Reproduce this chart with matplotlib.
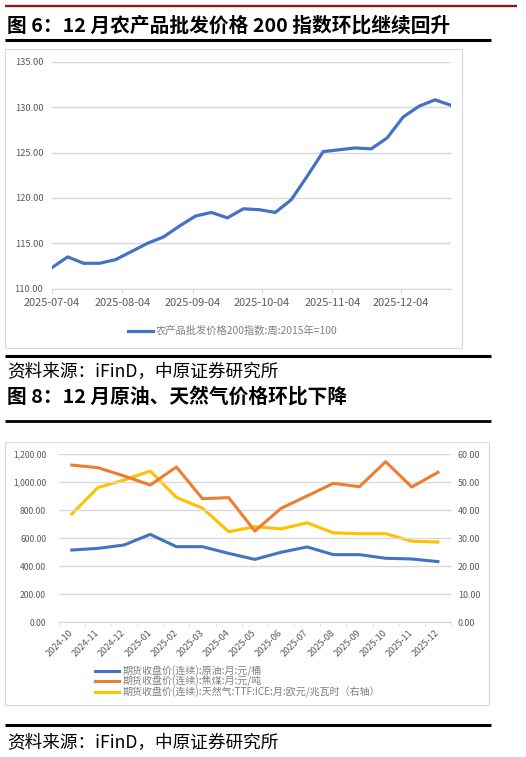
import matplotlib
matplotlib.use("Agg")
import matplotlib.pyplot as plt
from matplotlib.lines import Line2D
from matplotlib.patches import Rectangle
import pandas as pd
import numpy as np

plt.rcParams['font.family'] = ['Noto Sans CJK SC', 'DejaVu Sans']

# ---- data: chart 1 (weekly index) ----
agri_dates = pd.date_range('2025-07-04', periods=26, freq='7D')
agri_index = [112.3, 113.5, 112.8, 112.8, 113.2, 114.1, 115.0, 115.7, 116.9, 118.0,
              118.4, 117.8, 118.8, 118.7, 118.4, 119.8, 122.4, 125.1, 125.3, 125.5,
              125.4, 126.6, 128.9, 130.1, 130.8, 130.2]
agri_ticks = ['2025-07-04', '2025-08-04', '2025-09-04', '2025-10-04', '2025-11-04', '2025-12-04']
agri_label = '农产品批发价格200指数:周:2015年=100'

# ---- data: chart 2 (monthly futures) ----
months = ['2024-10', '2024-11', '2024-12', '2025-01', '2025-02', '2025-03', '2025-04', '2025-05',
          '2025-06', '2025-07', '2025-08', '2025-09', '2025-10', '2025-11', '2025-12']
crude = [515, 527, 551, 627, 539, 539, 491, 448, 499, 537, 482, 482, 456, 451, 432]
coking_coal = [1123, 1104, 1045, 980, 1109, 882, 890, 651, 813, 902, 992, 968, 1147, 966, 1071]
ttf_gas = [38.6, 48.1, 50.8, 54.0, 44.6, 40.7, 32.3, 34.1, 33.3, 35.5, 31.9, 31.6, 31.6, 28.9, 28.6]
series_names = ['期货收盘价(连续):原油:月:元/桶',
                '期货收盘价(连续):焦煤:月:元/吨',
                '期货收盘价(连续):天然气:TTF:ICE:月:欧元/兆瓦时（右轴）']

W, H = 526, 757
BLUE, ORANGE, YELLOW = '#4472C4', '#ED7D31', '#FFC000'
GRID = '#D9D9D9'
TICK = '#595959'


def fx(x):
    return x / W


def fy(y):
    return 1 - y / H


def rect(l, t, r, b):
    return [fx(l), fy(b), (r - l) / W, (b - t) / H]


def hline(x0, x1, y, color, lw):
    fig.add_artist(Line2D([fx(x0), fx(x1)], [fy(y), fy(y)], transform=fig.transFigure,
                          color=color, lw=lw, solid_capstyle='butt'))


def box(l, t, r, b):
    fig.add_artist(Rectangle((fx(l), fy(b)), (r - l) / W, (b - t) / H, transform=fig.transFigure,
                             fill=False, edgecolor=GRID, lw=0.8))


fig = plt.figure(figsize=(W / 100, H / 100), dpi=100)

# header decorations
hline(5, 517, 5.5, '#8B1A1A', 1.7)
fig.text(fx(7), fy(25), '图 6：12 月农产品批发价格 200 指数环比继续回升', fontsize=14.2,
         fontweight='bold', va='center', ha='left')
hline(5, 491, 40, 'black', 2.2)

# ---- chart 1 ----
box(5, 49, 462, 347.5)
ax1 = fig.add_axes(rect(51.7, 61.7, 451, 288.7))
ax1.plot(agri_dates, agri_index, color=BLUE, lw=2.3, solid_joinstyle='round')
ax1.set_ylim(110, 135)
ax1.set_yticks(np.arange(110, 136, 5))
ax1.yaxis.set_major_formatter(plt.FuncFormatter(lambda v, p: f'{v:.2f}'))
ax1.set_xlim(agri_dates[0], agri_dates[-1])
ax1.set_xticks(pd.to_datetime(agri_ticks))
ax1.set_xticklabels(agri_ticks)
ax1.grid(axis='y', color=GRID, lw=1)
ax1.set_axisbelow(True)
for s in ['top', 'right', 'left']:
    ax1.spines[s].set_visible(False)
ax1.spines['bottom'].set_color(GRID)
ax1.tick_params(axis='y', length=0, labelsize=6.7, labelcolor=TICK, pad=6)
ax1.tick_params(axis='x', length=3, color=GRID, labelsize=7.9, labelcolor=TICK, pad=4)

fig.add_artist(Line2D([fx(128), fx(153)], [fy(330.7)] * 2, transform=fig.transFigure,
                      color=BLUE, lw=2.3))
fig.text(fx(156), fy(330.7), agri_label, fontsize=7.4, color='#7F7F7F', va='center', ha='left')

hline(5, 491, 356, 'black', 2.2)
fig.text(fx(7), fy(372), '资料来源：iFinD，中原证券研究所', fontsize=12.7, va='center', ha='left')
fig.text(fx(7), fy(397), '图 8：12 月原油、天然气价格环比下降', fontsize=14.2,
         fontweight='bold', va='center', ha='left')
hline(5, 491, 420.5, 'black', 2.0)

# ---- chart 2 ----
box(5, 441.7, 489, 705)
ax2 = fig.add_axes(rect(58.7, 454.3, 451, 622))
x = np.arange(len(months))
ax2.plot(x, crude, color=BLUE, lw=2.2)
ax2.plot(x, coking_coal, color=ORANGE, lw=2.2)
ax2.set_xlim(-0.5, len(months) - 0.5)
ax2.set_ylim(0, 1200)
ax2.set_yticks(np.arange(0, 1201, 200))
ax2.yaxis.set_major_formatter(plt.FuncFormatter(lambda v, p: f'{v:,.2f}'))
ax2.grid(axis='y', color=GRID, lw=1)
ax2.set_axisbelow(True)
ax2.set_xticks(x)
ax2.set_xticklabels(months, rotation=45, ha='right', va='center', rotation_mode='anchor')
ax2.set_xticks(np.arange(-0.5, len(months), 1), minor=True)
ax2.tick_params(axis='x', which='major', length=0, labelsize=6.6, labelcolor=TICK, pad=7)
ax2.tick_params(axis='x', which='minor', length=3, color=GRID)
ax2.tick_params(axis='y', length=0, labelsize=6.2, labelcolor=TICK, pad=9)

ax3 = ax2.twinx()
ax3.plot(x, ttf_gas, color=YELLOW, lw=2.2)
ax3.set_ylim(0, 60)
ax3.set_yticks(np.arange(0, 61, 10))
ax3.yaxis.set_major_formatter(plt.FuncFormatter(lambda v, p: f'{v:.2f}'))
ax3.tick_params(axis='y', length=0, labelsize=6.4, labelcolor=TICK, pad=5)
# keep orange/blue above the yellow line as in the reference
ax2.set_zorder(ax3.get_zorder() + 1)
ax2.patch.set_visible(False)

for a in (ax2, ax3):
    for s in ['top', 'right', 'left']:
        a.spines[s].set_visible(False)
    a.spines['bottom'].set_color(GRID)

for yy, c, name in zip([671, 681.3, 692], [BLUE, ORANGE, YELLOW], series_names):
    fig.add_artist(Line2D([fx(95), fx(119)], [fy(yy)] * 2, transform=fig.transFigure, color=c, lw=2.2))
    fig.text(fx(122.7), fy(yy), name, fontsize=7.2, color='#7F7F7F', va='center', ha='left')

hline(5, 491, 725, 'black', 2.2)
fig.text(fx(7), fy(743), '资料来源：iFinD，中原证券研究所', fontsize=12.7, va='center', ha='left')

fig.savefig('out.png', dpi=100)
